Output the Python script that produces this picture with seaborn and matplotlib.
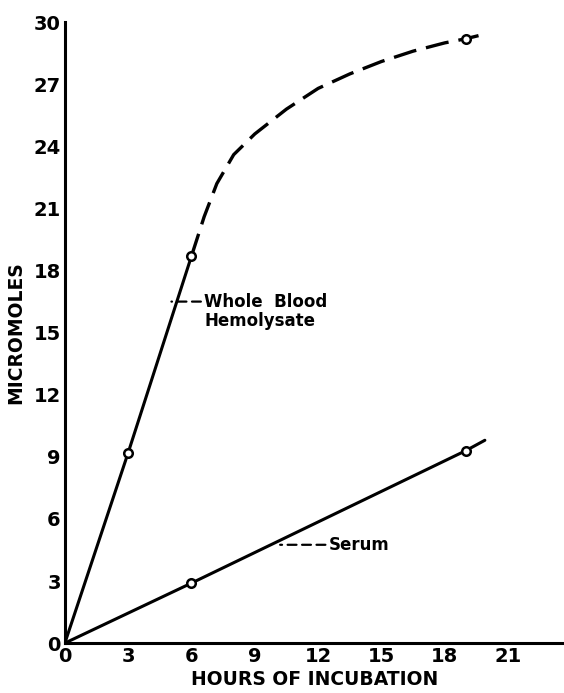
import matplotlib
matplotlib.use("Agg")
import matplotlib.pyplot as plt
import pandas as pd
import seaborn as sns

# Data
blood_hours = [0, 3, 6]
blood_umol = [0, 9.2, 18.7]
blood_curve_hours = [6, 6.6, 7.2, 8.0, 9.0, 10.5, 12.0, 13.5, 15.0, 16.5, 18.0, 19.0, 19.6]
blood_curve_umol = [18.7, 20.6, 22.2, 23.6, 24.6, 25.8, 26.8, 27.5, 28.1, 28.6, 29.0, 29.2, 29.35]
blood_marks_hours = [3, 6, 19]
blood_marks_umol = [9.2, 18.7, 29.2]

serum_hours = [0, 6, 19, 19.9]
serum_umol = [0, 2.9, 9.3, 9.8]
serum_marks_hours = [6, 19]
serum_marks_umol = [2.9, 9.3]

ticks = [0, 3, 6, 9, 12, 15, 18, 21]
yticks = [0, 3, 6, 9, 12, 15, 18, 21, 24, 27, 30]

sns.set_style("white")
plt.rcParams['font.family'] = ['DejaVu Sans']
plt.rcParams['text.color'] = 'black'
plt.rcParams['axes.labelcolor'] = 'black'
plt.rcParams['xtick.color'] = 'black'
plt.rcParams['ytick.color'] = 'black'

fig = plt.figure(figsize=(5.64, 6.93), dpi=100)
ax = fig.add_axes([0.115, 0.072, 0.885, 0.896])

blood = pd.DataFrame({'h': blood_hours, 'v': blood_umol})
curve = pd.DataFrame({'h': blood_curve_hours, 'v': blood_curve_umol})
serum = pd.DataFrame({'h': serum_hours, 'v': serum_umol})

sns.lineplot(data=blood, x='h', y='v', ax=ax, color='black', lw=2.2, sort=False)
sns.lineplot(data=curve, x='h', y='v', ax=ax, color='black', lw=2.4, sort=False)
ax.lines[-1].set_dashes([7, 3])
sns.lineplot(data=serum, x='h', y='v', ax=ax, color='black', lw=2.2, sort=False)

ax.scatter(blood_marks_hours, blood_marks_umol, s=38, facecolor='white',
           edgecolor='black', linewidths=1.8, zorder=5)
ax.scatter(serum_marks_hours, serum_marks_umol, s=38, facecolor='white',
           edgecolor='black', linewidths=1.8, zorder=5)

lead = dict(arrowstyle='-', ls=(0, (4, 2.5)), lw=1.6, color='black',
            shrinkA=0, shrinkB=0, relpos=(0, 0.5))
ax.annotate('Whole  Blood', xy=(5.05, 16.5), xytext=(6.6, 16.5),
            fontsize=12, fontweight='bold', va='center', ha='left',
            arrowprops=lead)
ax.text(6.6, 15.55, 'Hemolysate', fontsize=12, fontweight='bold',
        va='center', ha='left')
ax.annotate('Serum', xy=(10.2, 4.75), xytext=(12.5, 4.75),
            fontsize=12, fontweight='bold', va='center', ha='left',
            arrowprops=lead)

ax.set_xlim(0, 23.65)
ax.set_ylim(0, 30)
ax.set_xticks(ticks)
ax.set_yticks(yticks)
ax.tick_params(labelsize=14, length=0, pad=3)
for lab in ax.get_xticklabels() + ax.get_yticklabels():
    lab.set_fontweight('bold')

ax.set_xlabel('HOURS OF INCUBATION', fontsize=13.5, fontweight='bold', labelpad=3)
ax.set_ylabel('MICROMOLES', fontsize=13.5, fontweight='bold', labelpad=6)

sns.despine(ax=ax)
ax.spines['left'].set_linewidth(2.2)
ax.spines['bottom'].set_linewidth(2.2)
ax.spines['left'].set_color('black')
ax.spines['bottom'].set_color('black')

fig.savefig('out.png', dpi=100)
